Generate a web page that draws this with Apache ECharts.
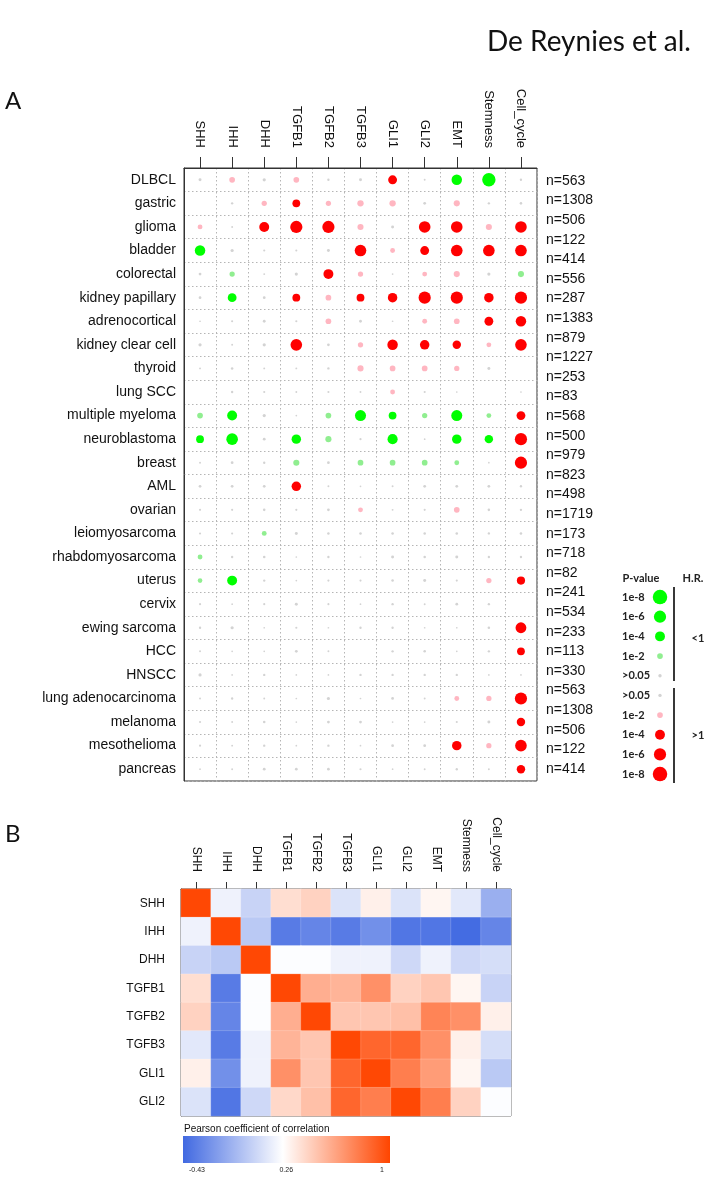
<!DOCTYPE html>
<html><head><meta charset="utf-8">
<script src="https://cdn.jsdelivr.net/npm/echarts@6/dist/echarts.min.js"></script>
<style>html,body{margin:0;padding:0;background:#fff}#c{width:708px;height:1181px}</style>
</head><body><div id="c"></div>
<script>
// ---------- DATA ----------
const signatures = ['SHH','IHH','DHH','TGFB1','TGFB2','TGFB3','GLI1','GLI2','EMT','Stemness','Cell_cycle'];
const cancers = ['DLBCL','gastric','glioma','bladder','colorectal','kidney papillary','adrenocortical','kidney clear cell','thyroid','lung SCC','multiple myeloma','neuroblastoma','breast','AML','ovarian','leiomyosarcoma','rhabdomyosarcoma','uterus','cervix','ewing sarcoma','HCC','HNSCC','lung adenocarcinoma','melanoma','mesothelioma','pancreas'];
const sampleLabels = ['n=563','n=1308','n=506','n=122','n=414','n=556','n=287','n=1383','n=879','n=1227','n=253','n=83','n=568','n=500','n=979','n=823','n=498','n=1719','n=173','n=718','n=82','n=241','n=534','n=233','n=113','n=330','n=563','n=1308','n=506','n=122','n=414'];
// signed -log10(p-value): positive = H.R. > 1 (red), negative = H.R. < 1 (green)
const logP = [
  [0.7, 2, 0.8, 2, 0.4, 0.7, 3.5, 0.2, -4.5, -7, 0.4],
  [0, 0.4, 1.8, 3, 1.8, 2.3, 2.3, 0.6, 2.2, 0.4, 0.5],
  [1.6, 0.2, 4, 6, 6, 2.2, 0.7, 5.5, 5.5, 2.2, 5.5],
  [-4.5, 0.8, 0.3, 0.3, 0.7, 5.5, 1.6, 3.5, 5.5, 5.5, 5.5],
  [0.6, -1.8, 0.2, 0.8, 4, 1.8, 0.1, 1.6, 2.2, 0.8, -2.2],
  [0.6, -3.5, 0.6, 3, 2, 3, 3.8, 6, 6, 3.8, 6],
  [0.1, 0.3, 0.6, 0.3, 2, 0.6, 0.1, 1.6, 2, 3.5, 4.5],
  [0.8, 0.2, 0.8, 5.5, 0.6, 1.8, 4.5, 3.8, 3.3, 1.6, 5.5],
  [0.2, 0.5, 0.2, 0.2, 0.4, 2.2, 2, 2, 1.8, 0.7, 0],
  [0, 0.4, 0.3, 0.2, 0.3, 0.2, 1.6, 0.3, 0.1, 0, 0.1],
  [-2, -4, 0.8, 0.1, -2, -5, -3, -1.8, -5, -1.6, 3.5],
  [-3, -5.5, 0.6, -3.8, -2.2, 0.3, -4.2, 0.1, -3.8, -3.3, 6],
  [0.2, 0.6, 0.4, -2.2, 0.6, -2, -2, -2, -1.6, 0.1, 6],
  [0.6, 0.6, 0.6, 3.8, 0.2, 0.1, 0.2, 0.6, 0.6, 0.6, 0.4],
  [0.3, 0.3, 0.5, 0.3, 0.6, 1.6, 0.2, 0.3, 2, 0.5, 0.4],
  [0.3, 0.3, -1.6, 0.7, 0.5, 0.5, 0.5, 0.5, 0.5, 0.4, 0.5],
  [-1.6, 0.4, 0.5, 0.1, 0.4, 0.1, 0.7, 0.5, 0.7, 0.4, 0.4],
  [-1.5, -4, 0.4, 0.1, 0.3, 0.3, 0.5, 0.7, 0.3, 1.8, 3.2],
  [0.3, 0.1, 0.3, 0.7, 0.3, 0.1, 0.4, 0.2, 0.6, 0.4, 0],
  [0.4, 0.8, 0.1, 0.3, 0.1, 0.4, 0.4, 0.1, 0.1, 0.5, 4.8],
  [0.2, 0.1, 0.1, 0.6, 0.2, 0, 0.4, 0.5, 0.1, 0.4, 3],
  [0.8, 0.1, 0.4, 0.1, 0.1, 0.4, 0.4, 0.4, 0.4, 0.1, 0.1],
  [0.2, 0.4, 0.2, 0.1, 0.8, 0.1, 0.6, 0.2, 1.6, 1.8, 6],
  [0.3, 0.2, 0.5, 0.1, 0.6, 0.6, 0.1, 0.1, 0.3, 0.7, 3.3],
  [0.3, 0.2, 0.4, 0.1, 0.4, 0.1, 0.6, 0.6, 3.8, 1.8, 5.5],
  [0.1, 0.2, 0.6, 0.6, 0.6, 0.3, 0.1, 0.2, 0.4, 0.2, 3.3]
];
const legendLabels = ['1e-8','1e-6','1e-4','1e-2','>0.05','>0.05','1e-2','1e-4','1e-6','1e-8'];
const legendLevels = [-8, -6, -4, -2, -0.9, 0.9, 2, 4, 6, 8];

const corrRows = ['SHH','IHH','DHH','TGFB1','TGFB2','TGFB3','GLI1','GLI2'];
const corr = [
  [1, 0.19, 0.07, 0.39, 0.43, 0.14, 0.33, 0.14, 0.29, 0.15, -0.11],
  [0.19, 1, 0.0, -0.34, -0.31, -0.34, -0.24, -0.37, -0.37, -0.43, -0.29],
  [0.07, 0.0, 1, 0.24, 0.24, 0.2, 0.19, 0.08, 0.2, 0.08, 0.11],
  [0.39, -0.34, 0.24, 1, 0.58, 0.57, 0.71, 0.43, 0.48, 0.3, 0.06],
  [0.43, -0.31, 0.24, 0.58, 1, 0.48, 0.48, 0.51, 0.75, 0.71, 0.33],
  [0.15, -0.34, 0.2, 0.57, 0.48, 1, 0.86, 0.88, 0.71, 0.32, 0.11],
  [0.33, -0.24, 0.19, 0.71, 0.48, 0.86, 1, 0.78, 0.65, 0.29, 0.0],
  [0.14, -0.37, 0.08, 0.42, 0.51, 0.88, 0.78, 1, 0.78, 0.45, 0.26]
];
const cbTicks = [-0.43, 0.26, 1];
const cbMin = -0.43, cbMid = 0.26, cbMax = 1;

// ---------- HELPERS ----------
function dotSize(m) {
  m = Math.abs(m);
  if (m === 0) return 0;
  return m <= 4 ? 1.5 + 2.1 * m : 9.9 + (m - 4) * 1.15;
}
function dotColor(v) {
  const m = Math.abs(v);
  if (m < 1.3) return '#d3d3d3';
  if (v > 0) return m < 3 ? '#ffb6c1' : '#ff0000';
  return m < 3 ? '#90ee90' : '#00ff00';
}

const dotData = [];
logP.forEach((row, r) => row.forEach((v, c) => dotData.push([c, r, v])));
const heatData = [];
corr.forEach((row, r) => row.forEach((v, c) => heatData.push([c, r, v])));
const legendData = legendLevels.map((v, i) => [0, i, v]);

// ---------- LAYOUT ----------
const A = {left: 184, top: 168, width: 353, height: 613};
const B = {left: 181, top: 889, width: 330, height: 227};
const CB = {left: 183, top: 1136, len: 207, thick: 27, inL: 14, inR: 8};
const FONT = 'Liberation Sans, Arial, Helvetica, sans-serif';
const LFONT = 'Lato, Open Sans, sans-serif';

const chart = echarts.init(document.getElementById('c'), null, {renderer: 'canvas'});

const cbLabelGraphics = cbTicks.map(t => ({
  type: 'text',
  x: CB.left + CB.inL + (t - cbMin) / (cbMax - cbMin) * (CB.len - CB.inL - CB.inR),
  y: CB.top + CB.thick + 4,
  style: {text: String(t), fontSize: 7, fontFamily: FONT, fill: '#222', align: 'center', verticalAlign: 'top'}
}));

const lt = (x, y, text, size) => ({type: 'text', x, y, style: {text, fontSize: size, fontWeight: 'bold', fontFamily: LFONT, fill: '#222', align: 'center', verticalAlign: 'middle'}});

const option = {
  backgroundColor: '#fff',
  animation: false,
  textStyle: {fontFamily: FONT},
  grid: [
    {left: A.left, top: A.top, width: A.width, height: A.height, show: true, borderColor: '#333', borderWidth: 1, containLabel: false},
    {left: B.left, top: B.top, width: B.width, height: B.height, show: true, borderColor: '#333', borderWidth: 1, containLabel: false},
    {left: 650, top: 587.2, width: 20, height: 196.7, containLabel: false},
    {left: 537, top: 171.2, width: 1, height: 607.6, containLabel: false}
  ],
  xAxis: [
    {gridIndex: 0, type: 'category', data: signatures, position: 'top',
      axisLine: {show: true, lineStyle: {color: '#333'}},
      axisTick: {show: true, alignWithLabel: true, length: 11, lineStyle: {color: '#333'}},
      axisLabel: {rotate: 90, margin: 20, fontSize: 13, color: '#111', interval: 0},
      splitLine: {show: true, lineStyle: {type: [1.5, 2.5], color: '#b5b5b5'}}},
    {gridIndex: 1, type: 'category', data: signatures, position: 'top',
      axisLine: {show: true, lineStyle: {color: '#333'}},
      axisTick: {show: true, alignWithLabel: true, length: 7, lineStyle: {color: '#333'}},
      axisLabel: {rotate: 90, margin: 17, fontSize: 12, color: '#111', interval: 0},
      splitLine: {show: false}},
    {gridIndex: 2, type: 'value', min: -1, max: 1, show: false},
    {gridIndex: 3, type: 'value', min: 0, max: 1, show: false}
  ],
  yAxis: [
    {gridIndex: 0, type: 'category', data: cancers, inverse: true,
      axisLine: {show: true, lineStyle: {color: '#333'}}, axisTick: {show: false},
      axisLabel: {margin: 8, fontSize: 14, color: '#111', interval: 0},
      splitLine: {show: true, lineStyle: {type: [1.5, 2.5], color: '#b5b5b5'}}},
    {gridIndex: 1, type: 'category', data: corrRows, inverse: true,
      axisLine: {show: true, lineStyle: {color: '#333'}}, axisTick: {show: false},
      axisLabel: {margin: 16, fontSize: 12, color: '#111', interval: 0}},
    {gridIndex: 2, type: 'category', data: legendLabels, inverse: true,
      axisLine: {show: false}, axisTick: {show: false},
      axisLabel: {margin: 28, align: 'left', fontSize: 11, color: '#222', fontFamily: LFONT, fontWeight: 'bold', interval: 0}},
    {gridIndex: 3, type: 'category', data: sampleLabels, inverse: true, position: 'right',
      axisLine: {show: false}, axisTick: {show: false},
      axisLabel: {margin: 8, fontSize: 14, color: '#111', interval: 0}}
  ],
  visualMap: [{
    type: 'piecewise', show: false, seriesIndex: 1, dimension: 2,
    pieces: (function () {
      // fine-grained stops giving a blue-white-red scale with white at cbMid
      const out = [];
      const N = 60;
      const blue = [65, 105, 225], white = [255, 255, 255], red = [255, 69, 0];
      for (let i = 0; i < N; i++) {
        const a = cbMin + (cbMax - cbMin) * i / N, b = cbMin + (cbMax - cbMin) * (i + 1) / N;
        const m = (a + b) / 2;
        let c;
        if (m <= cbMid) { const t = (cbMid - m) / (cbMid - cbMin); c = white.map((w, k) => Math.round(w + (blue[k] - w) * t)); }
        else { const t = (m - cbMid) / (cbMax - cbMid); c = white.map((w, k) => Math.round(w + (red[k] - w) * t)); }
        out.push({gte: i === 0 ? -10 : a, lt: i === N - 1 ? 10 : b, color: 'rgb(' + c.join(',') + ')'});
      }
      return out;
    })()
  }],
  graphic: [
    {type: 'text', x: 487, y: 42, style: {text: 'De Reynies et al.', fontSize: 28, fontFamily: LFONT, fill: '#111', verticalAlign: 'middle'}},
    {type: 'text', x: 5, y: 101, style: {text: 'A', fontSize: 24, fontFamily: LFONT, fill: '#111', verticalAlign: 'middle'}},
    {type: 'text', x: 5, y: 834, style: {text: 'B', fontSize: 24, fontFamily: LFONT, fill: '#111', verticalAlign: 'middle'}},
    lt(641, 578, 'P-value', 11),
    lt(693, 578, 'H.R.', 11),
    lt(698, 638, '<1', 11),
    lt(698, 735, '>1', 11),
    {type: 'line', shape: {x1: 674, y1: 587, x2: 674, y2: 681}, style: {stroke: '#222', lineWidth: 1.8}},
    {type: 'line', shape: {x1: 674, y1: 688, x2: 674, y2: 783}, style: {stroke: '#222', lineWidth: 1.8}},
    {type: 'text', x: 184, y: 1129, style: {text: 'Pearson coefficient of correlation', fontSize: 10, fontFamily: FONT, fill: '#111', verticalAlign: 'middle'}},
    {type: 'rect', shape: {x: CB.left, y: CB.top, width: CB.len, height: CB.thick},
      style: {fill: new echarts.graphic.LinearGradient(0, 0, 1, 0, [
        {offset: 0, color: '#4169e1'},
        {offset: (cbMid - cbMin) / (cbMax - cbMin), color: '#ffffff'},
        {offset: 1, color: '#ff4500'}])}}
  ].concat(cbLabelGraphics),
  series: [
    {type: 'scatter', xAxisIndex: 0, yAxisIndex: 0, data: dotData,
      symbolSize: v => dotSize(v[2]),
      itemStyle: {color: p => dotColor(p.value[2]), opacity: 1}},
    {type: 'heatmap', xAxisIndex: 1, yAxisIndex: 1, data: heatData,
      itemStyle: {borderColor: 'rgba(255,255,255,0.35)', borderWidth: 0.5}},
    {type: 'scatter', xAxisIndex: 2, yAxisIndex: 2, data: legendData,
      symbolSize: v => dotSize(v[2]),
      itemStyle: {color: p => dotColor(p.value[2]), opacity: 1}}
  ]
};
chart.setOption(option);
</script></body></html>
